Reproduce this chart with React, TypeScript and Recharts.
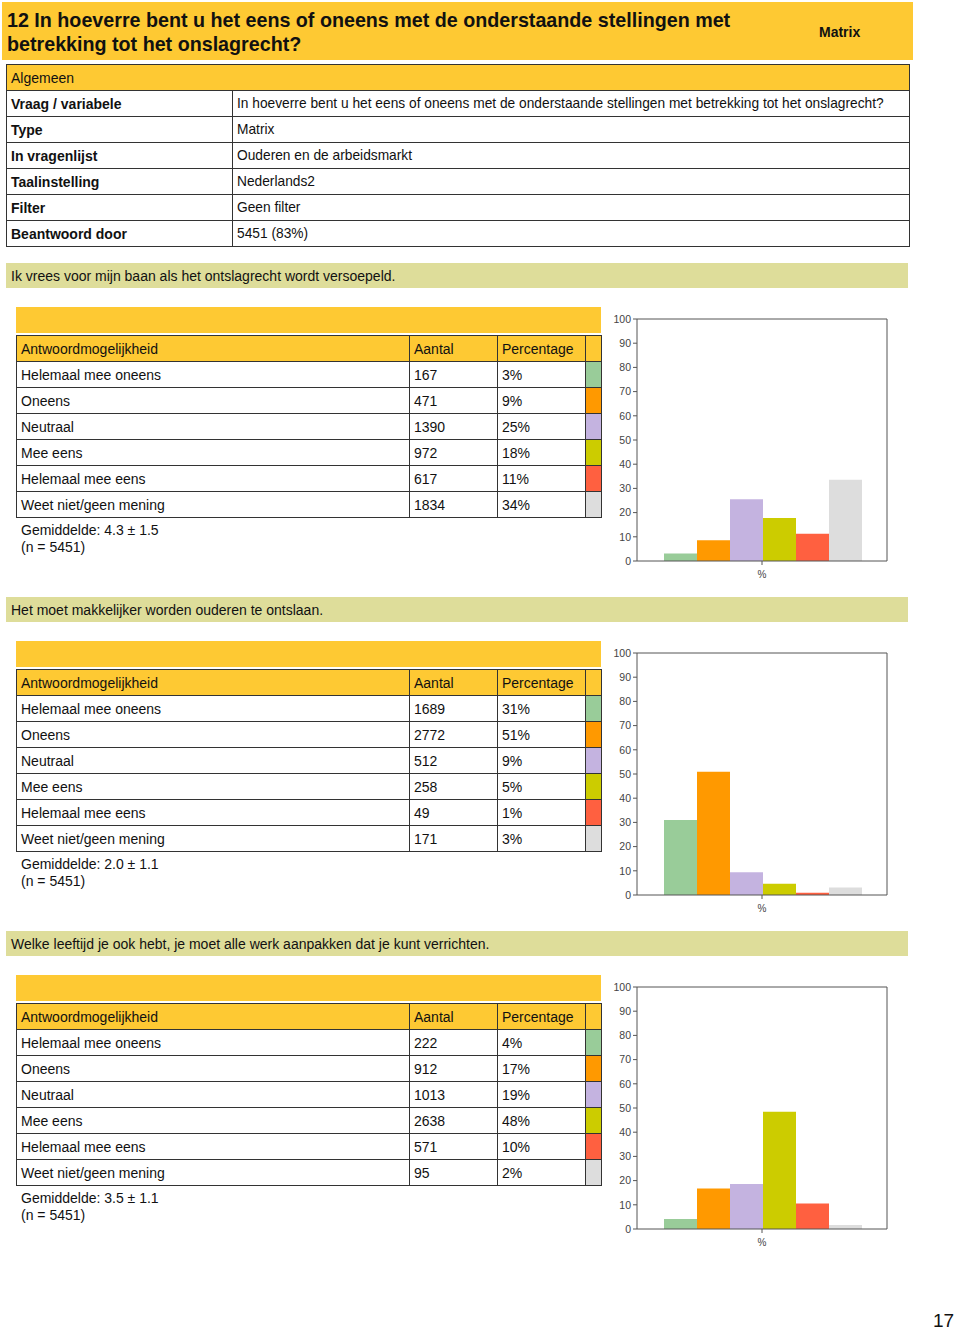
import React from 'react';
import { BarChart, Bar, XAxis, YAxis } from 'recharts';

// answer options + colours used for the bars and swatches
const options = [
    'Helemaal mee oneens',
    'Oneens',
    'Neutraal',
    'Mee eens',
    'Helemaal mee eens',
    'Weet niet/geen mening',
];
const optionColors = ['#99cc99', '#ff9900', '#c4b3e0', '#cccc00', '#ff6040', '#dddddd'];
const seriesKeys = ['s0', 's1', 's2', 's3', 's4', 's5'];

const statements = [
    'Ik vrees voor mijn baan als het ontslagrecht wordt versoepeld.',
    'Het moet makkelijker worden ouderen te ontslaan.',
    'Welke leeftijd je ook hebt, je moet alle werk aanpakken dat je kunt verrichten.',
];

// counts per statement (table "Aantal")
const counts1 = [167, 471, 1390, 972, 617, 1834];
const counts2 = [1689, 2772, 512, 258, 49, 171];
const counts3 = [222, 912, 1013, 2638, 571, 95];

// percentage labels per statement (table "Percentage")
const pctLabels1 = ['3%', '9%', '25%', '18%', '11%', '34%'];
const pctLabels2 = ['31%', '51%', '9%', '5%', '1%', '3%'];
const pctLabels3 = ['4%', '17%', '19%', '48%', '10%', '2%'];

// bar heights (%)
const bars1 = [3.1, 8.6, 25.5, 17.8, 11.3, 33.6];
const bars2 = [31.0, 50.9, 9.4, 4.7, 0.9, 3.1];
const bars3 = [4.1, 16.7, 18.6, 48.4, 10.5, 1.7];

const means = ['Gemiddelde: 4.3 ± 1.5', 'Gemiddelde: 2.0 ± 1.1', 'Gemiddelde: 3.5 ± 1.1'];
const nLabel = '(n = 5451)';

const yTicks = [0, 10, 20, 30, 40, 50, 60, 70, 80, 90, 100];

const generalRows = [
    ['Vraag / variabele', 'In hoeverre bent u het eens of oneens met de onderstaande stellingen met betrekking tot het onslagrecht?'],
    ['Type', 'Matrix'],
    ['In vragenlijst', 'Ouderen en de arbeidsmarkt'],
    ['Taalinstelling', 'Nederlands2'],
    ['Filter', 'Geen filter'],
    ['Beantwoord door', '5451 (83%)'],
];

const sections = [
    { counts: counts1, pcts: pctLabels1, bars: bars1 },
    { counts: counts2, pcts: pctLabels2, bars: bars2 },
    { counts: counts3, pcts: pctLabels3, bars: bars3 },
];

const YELLOW = '#fec933';
const BAND = '#dedd9a';
const LINE = '#333';
const AXIS = '#555';
const FONT = '"Liberation Sans", Arial, Helvetica, sans-serif';

const cell: React.CSSProperties = {
    border: `1px solid ${LINE}`,
    padding: '0 0 0 4px',
    height: 26,
    fontSize: 14,
    color: '#111',
    whiteSpace: 'nowrap',
    overflow: 'hidden',
    boxSizing: 'border-box',
};

const Section: React.FC<{ idx: number; top: number }> = ({ idx, top }) => {
    const s = sections[idx];
    const row: Record<string, string | number> = { name: '%' };
    seriesKeys.forEach((k, i) => (row[k] = s.bars[i]));
    const data = [row];

    return (
        <>
            <div style={{ position: 'absolute', left: 6, top, width: 902, height: 25, background: BAND, fontSize: 14, lineHeight: '26px', paddingLeft: 5, boxSizing: 'border-box', color: '#111' }}>
                {statements[idx]}
            </div>
            <div style={{ position: 'absolute', left: 16, top: top + 44, width: 585, height: 26, background: YELLOW }} />
            <table style={{ position: 'absolute', left: 16, top: top + 72, width: 585, borderCollapse: 'collapse', tableLayout: 'fixed', fontFamily: FONT }}>
                <colgroup>
                    <col style={{ width: 393 }} />
                    <col style={{ width: 88 }} />
                    <col style={{ width: 88 }} />
                    <col style={{ width: 16 }} />
                </colgroup>
                <tbody>
                    <tr style={{ background: YELLOW }}>
                        <td style={cell}>Antwoordmogelijkheid</td>
                        <td style={cell}>Aantal</td>
                        <td style={cell}>Percentage</td>
                        <td style={cell}></td>
                    </tr>
                    {options.map((o, i) => (
                        <tr key={o}>
                            <td style={cell}>{o}</td>
                            <td style={cell}>{s.counts[i]}</td>
                            <td style={cell}>{s.pcts[i]}</td>
                            <td style={{ ...cell, background: optionColors[i] }}></td>
                        </tr>
                    ))}
                </tbody>
            </table>
            <div style={{ position: 'absolute', left: 21, top: top + 259, fontSize: 14, lineHeight: '17px', color: '#111' }}>
                <div>{means[idx]}</div>
                <div>{nLabel}</div>
            </div>
            <div style={{ position: 'absolute', left: 600, top: top + 47 }}>
                <BarChart
                    width={300}
                    height={280}
                    data={data}
                    margin={{ top: 8, right: 12, left: 7, bottom: 9 }}
                    barCategoryGap={27}
                    barGap={0}
                >
                    <XAxis dataKey="name" tickSize={4} tickMargin={6} stroke={AXIS} tick={{ fontSize: 10, fill: '#444' }} height={20} />
                    <XAxis xAxisId="top" dataKey="name" orientation="top" tick={false} tickLine={false} stroke={AXIS} height={1} />
                    <YAxis domain={[0, 100]} ticks={yTicks} interval={0} tickSize={4} stroke={AXIS} tick={{ fontSize: 10.5, fill: '#444' }} width={30} />
                    <YAxis yAxisId="right" orientation="right" domain={[0, 100]} tick={false} tickLine={false} stroke={AXIS} width={1} />
                    {seriesKeys.map((k, i) => (
                        <Bar key={k} dataKey={k} fill={optionColors[i]} isAnimationActive={false} />
                    ))}
                </BarChart>
            </div>
        </>
    );
};

export default function App() {
    return (
        <div style={{ position: 'absolute', left: 0, top: 0, width: 960, height: 1331, background: '#fff', fontFamily: FONT, overflow: 'hidden' }}>
            <div style={{ position: 'absolute', left: 2, top: 2, width: 911, height: 58, background: YELLOW }}>
                <div style={{ position: 'absolute', left: 5, top: 6, fontSize: 19.7, fontWeight: 'bold', lineHeight: '24px', color: '#111' }}>
                    12 In hoeverre bent u het eens of oneens met de onderstaande stellingen met
                    <br />
                    betrekking tot het onslagrecht?
                </div>
                <div style={{ position: 'absolute', left: 817, top: 22, fontSize: 14, fontWeight: 'bold', color: '#111' }}>Matrix</div>
            </div>
            <table style={{ position: 'absolute', left: 6, top: 64, width: 903, borderCollapse: 'collapse', tableLayout: 'fixed', fontFamily: FONT }}>
                <colgroup>
                    <col style={{ width: 226 }} />
                    <col style={{ width: 677 }} />
                </colgroup>
                <tbody>
                    <tr style={{ background: YELLOW }}>
                        <td colSpan={2} style={cell}>Algemeen</td>
                    </tr>
                    {generalRows.map(([k, v]) => (
                        <tr key={k}>
                            <td style={{ ...cell, fontWeight: 'bold' }}>{k}</td>
                            <td style={{ ...cell, fontSize: 13.75 }}>{v}</td>
                        </tr>
                    ))}
                </tbody>
            </table>
            <Section idx={0} top={263} />
            <Section idx={1} top={597} />
            <Section idx={2} top={931} />
            <div style={{ position: 'absolute', left: 933, top: 1311, fontSize: 19, lineHeight: '20px', color: '#111' }}>17</div>
        </div>
    );
}
